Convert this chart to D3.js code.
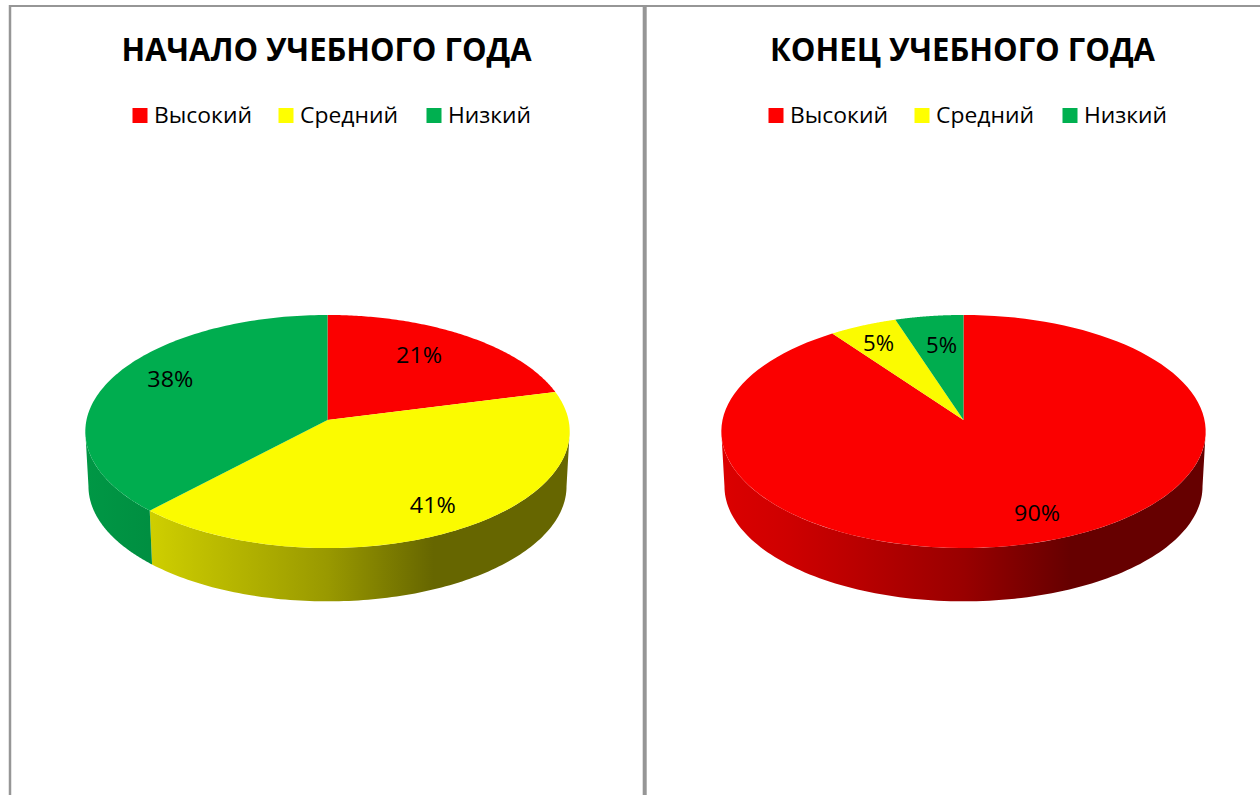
<!DOCTYPE html>
<html>
<head>
<meta charset="utf-8">
<script src="https://cdn.jsdelivr.net/npm/d3@7"></script>
<style>
  html, body { margin: 0; background: #fff; }
  svg { display: block; font-family: "Open Sans", "Noto Sans", sans-serif; }
</style>
</head>
<body>
<svg id="canvas" width="1260" height="795"></svg>
<script>
let categories = ['Высокий', 'Средний', 'Низкий'];
let colors = ['#ff0000', '#ffff00', '#00b050'];

let startTitle = 'НАЧАЛО УЧЕБНОГО ГОДА';
let startValues = [21, 41, 38];
let startLabelRadius = [0.72, 0.80, 0.77];
let startLabelShift = [-3.8, 0, 7];

let endTitle = 'КОНЕЦ УЧЕБНОГО ГОДА';
let endValues = [90, 5, 5];
let endLabelRadius = [0.80, 0.81, 0.70];
let endLabelShift = [-2.7, -0.8, 1];

let canvas = d3.select('#canvas');
let defs = canvas.append('defs');

// perspective of the tilted disc, fitted to the picture
let k = -0.0987;
let yScale = 115.4;
let radius = 241;
let apexY = 420;
let depth = 55;
let bottomShrink = 0.987;

let project = (cx, r, angle, lower) => {
    let X = r * Math.sin(angle);
    let Y = -r * Math.cos(angle);
    let w = 1 + k * Y;
    let s = lower ? bottomShrink : 1;
    return [cx + s * radius * X / w, apexY + (lower ? depth : 0) + s * yScale * Y / w];
};

let line = d3.line();

let arcPoints = (cx, a0, a1, lower) => {
    return d3.range(0, 121).map((i) => project(cx, 1, a0 + (a1 - a0) * i / 120, lower));
};

// brightness of the side wall from left to right
let shade = d3.scaleLinear()
    .domain([0, 0.13, 0.5, 0.72, 1])
    .range([0.86, 0.81, 0.6, 0.4, 0.4]);

// the top face is a touch less saturated than the legend swatches
let faceColor = (i) => {
    let c = d3.rgb(colors[i]);
    return d3.rgb(c.r * 0.985, c.g * 0.985, c.b * 0.985).formatHex();
};

let drawPie = (name, cx, title, values, labelRadius, labelShift) => {
    let g = canvas.append('g');

    g.append('text')
        .attr('x', cx - 1).attr('y', 61)
        .attr('text-anchor', 'middle')
        .attr('font-size', 33).attr('font-weight', 700)
        .attr('textLength', title === startTitle ? 410 : 385)
        .attr('lengthAdjust', 'spacingAndGlyphs')
        .text(title);

    // legend
    let legendX = d3.scaleOrdinal().domain(categories).range([0, 146, 294]);
    let legend = g.selectAll('.legend').data(categories).enter().append('g')
        .attr('class', 'legend')
        .attr('transform', (d) => 'translate(' + (cx - 195 + legendX(d)) + ',0)');
    legend.append('rect')
        .attr('y', 108).attr('width', 15).attr('height', 15)
        .attr('fill', (d, i) => colors[i]);
    legend.append('text')
        .attr('x', 21.5).attr('y', 123)
        .attr('font-size', 22)
        .attr('textLength', (d) => d === 'Низкий' ? 83 : 98)
        .attr('lengthAdjust', 'spacingAndGlyphs')
        .text((d) => d);

    let pie = d3.pie().sort(null).value((d) => d);
    let slices = pie(values);

    // side wall, from one silhouette tangent of the disc to the other
    let frontStart = Math.PI / 2 + Math.asin(-k);
    let frontEnd = Math.PI * 3 / 2 - Math.asin(-k);
    slices.forEach((s) => {
        let a0 = Math.max(s.startAngle, frontStart);
        let a1 = Math.min(s.endAngle, frontEnd);
        if (a1 <= a0) return;
        let id = name + 'side' + s.index;
        let c = d3.rgb(colors[s.index]);
        let grad = defs.append('linearGradient').attr('id', id)
            .attr('gradientUnits', 'userSpaceOnUse')
            .attr('x1', cx - radius).attr('x2', cx + radius).attr('y1', 0).attr('y2', 0);
        shade.domain().forEach((t) => {
            let m = shade(t);
            grad.append('stop').attr('offset', t)
                .attr('stop-color', d3.rgb(c.r * m, c.g * m, c.b * m).formatHex());
        });
        let top = arcPoints(cx, a0, a1, false);
        let bottom = arcPoints(cx, a0, a1, true).reverse();
        g.append('path')
            .attr('class', 'side')
            .attr('d', line(top.concat(bottom)) + 'Z')
            .attr('fill', 'url(#' + id + ')');
    });

    // top face
    slices.forEach((s) => {
        let pts = [project(cx, 0, 0, false)].concat(arcPoints(cx, s.startAngle, s.endAngle, false));
        g.append('path')
            .attr('class', 'slice')
            .attr('d', line(pts) + 'Z')
            .attr('fill', faceColor(s.index));
    });

    // data labels
    slices.forEach((s) => {
        let mid = (s.startAngle + s.endAngle) / 2 + labelShift[s.index] * Math.PI / 180;
        let p = project(cx, labelRadius[s.index], mid, false);
        g.append('text')
            .attr('x', p[0]).attr('y', p[1] + 8)
            .attr('text-anchor', 'middle')
            .attr('font-size', 22.5)
            .attr('textLength', values[s.index] === 5 ? 31 : 46)
            .attr('lengthAdjust', 'spacingAndGlyphs')
            .text(values[s.index] + '%');
    });
};

drawPie('start', 327.5, startTitle, startValues, startLabelRadius, startLabelShift);
drawPie('end', 963.5, endTitle, endValues, endLabelRadius, endLabelShift);

// frame around the two charts
let frameColor = '#969696';
canvas.append('line').attr('x1', 9).attr('x2', 1260).attr('y1', 6).attr('y2', 6)
    .attr('stroke', frameColor).attr('stroke-width', 2);
canvas.append('line').attr('x1', 10).attr('x2', 10).attr('y1', 5).attr('y2', 795)
    .attr('stroke', frameColor).attr('stroke-width', 2.5);
canvas.append('line').attr('x1', 644.7).attr('x2', 644.7).attr('y1', 5).attr('y2', 795)
    .attr('stroke', frameColor).attr('stroke-width', 4);
</script>
</body>
</html>
